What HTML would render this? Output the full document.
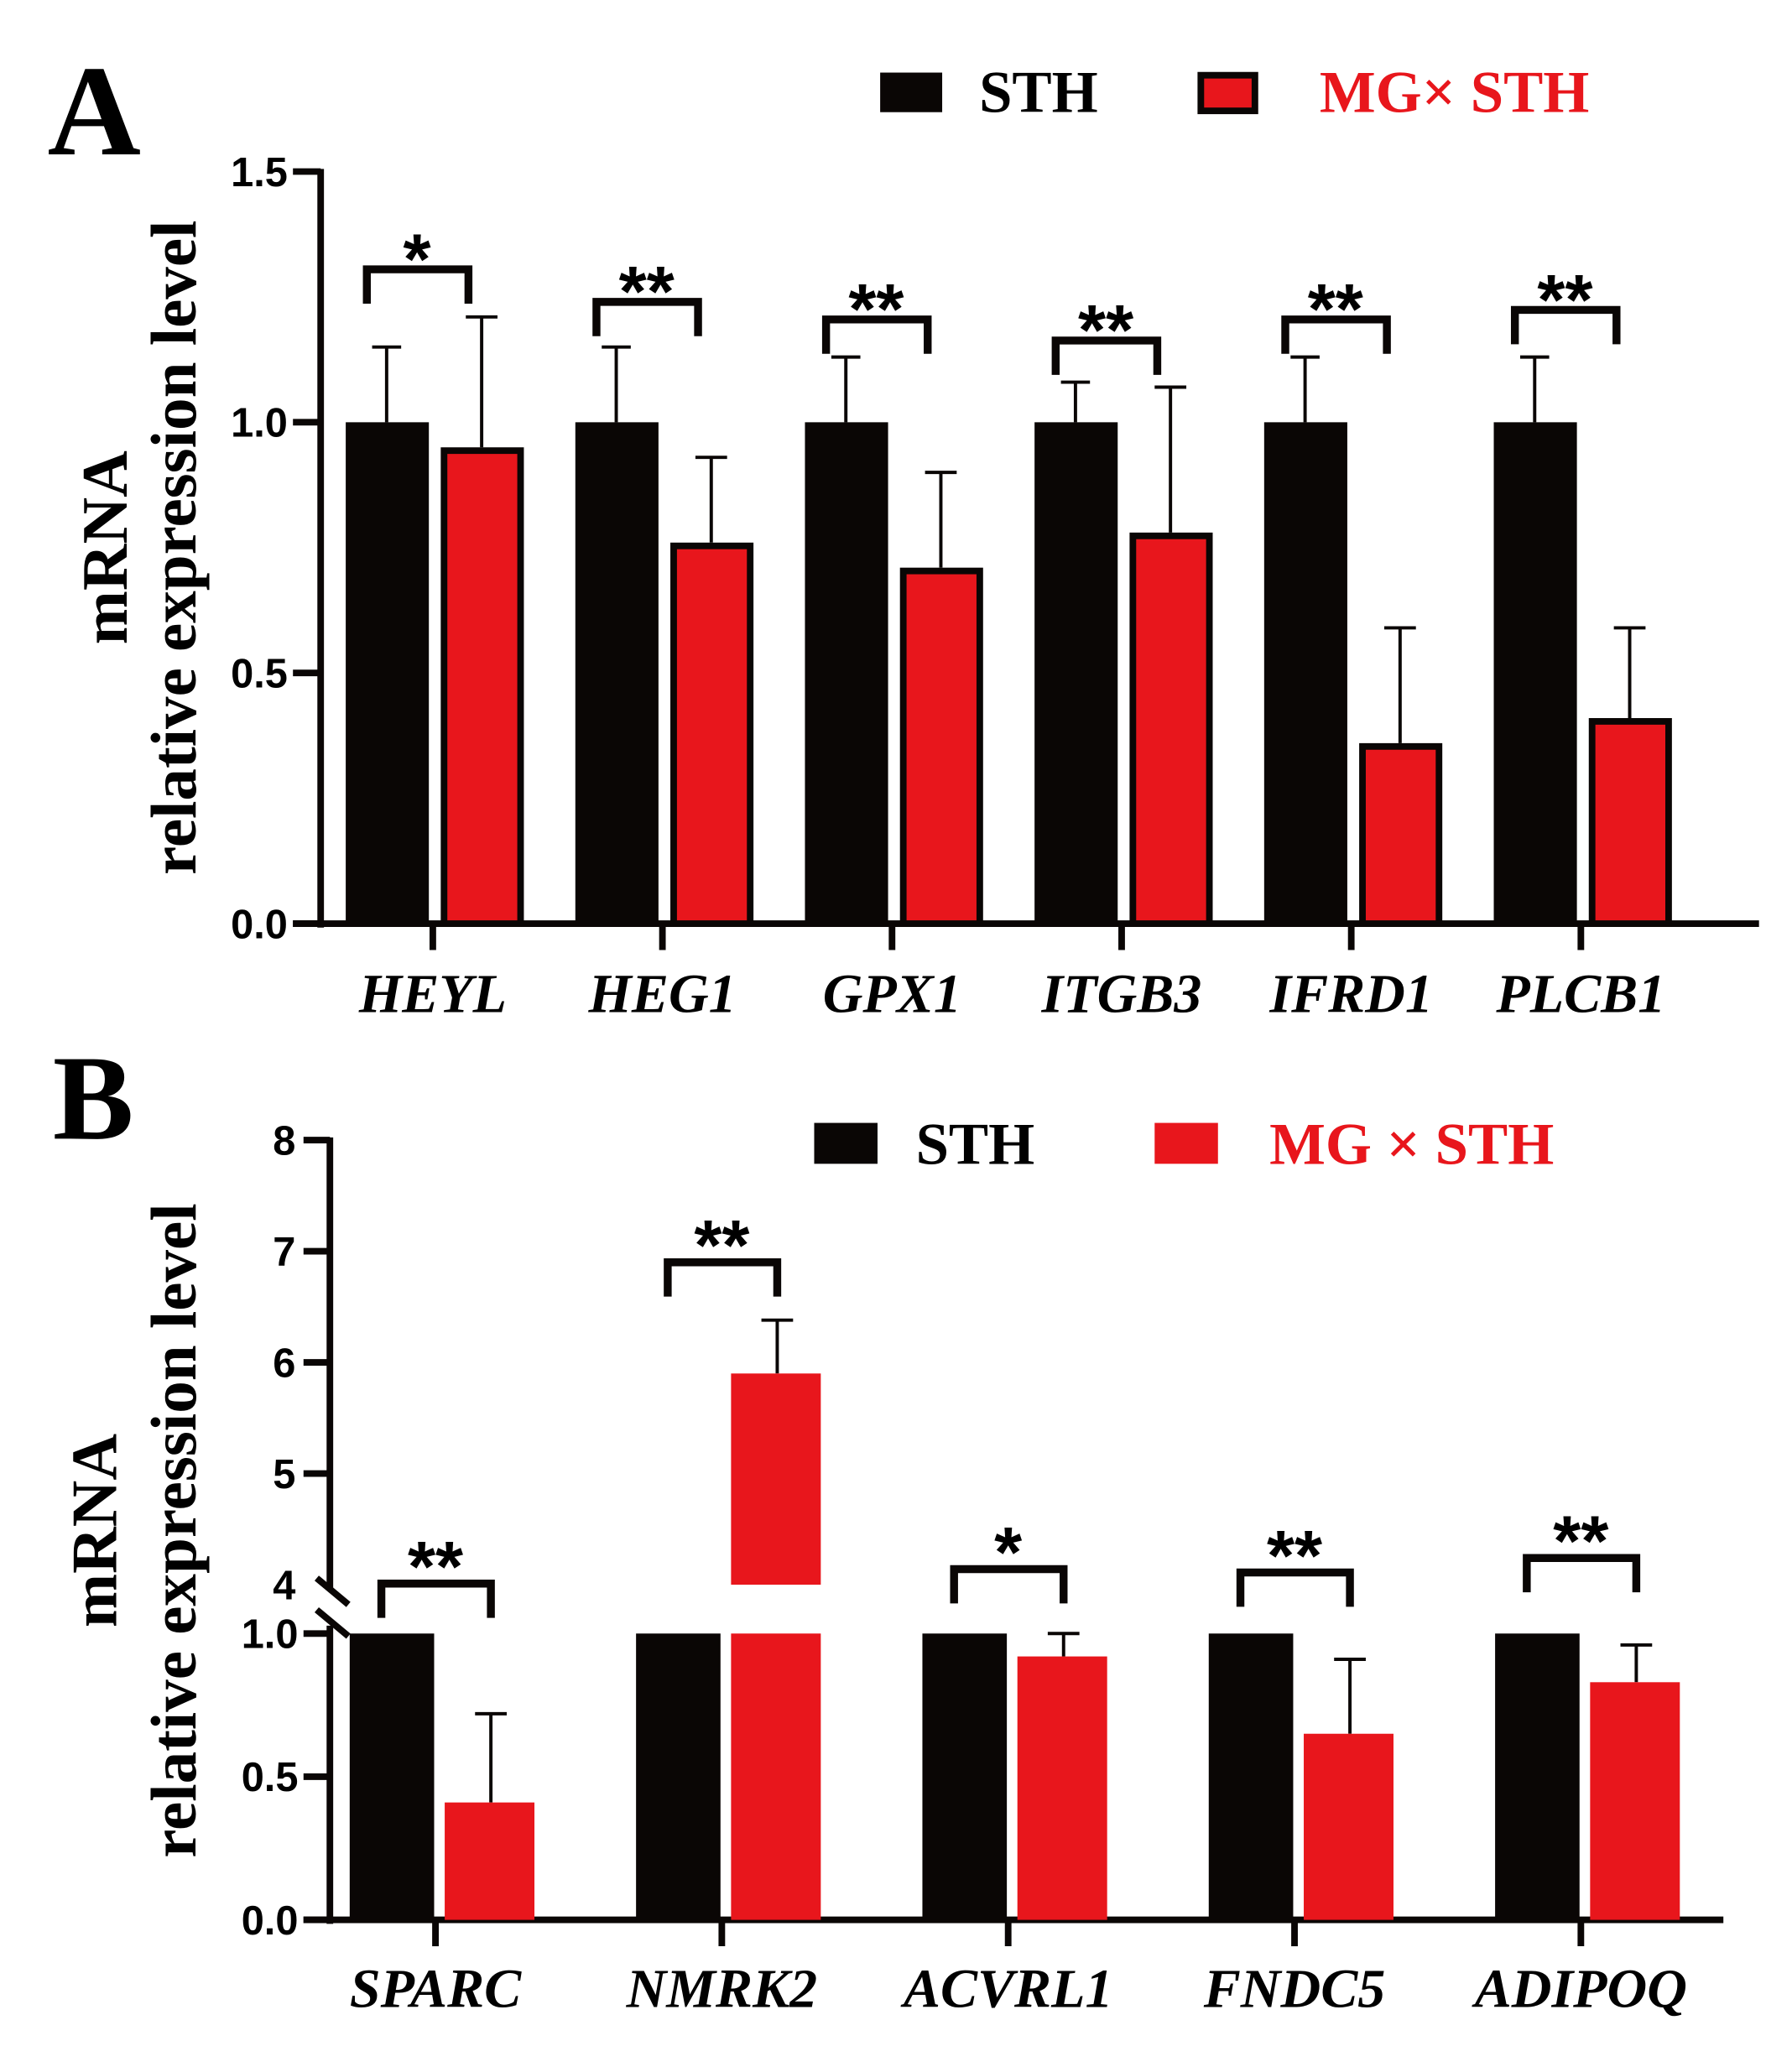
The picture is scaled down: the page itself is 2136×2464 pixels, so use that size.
<!DOCTYPE html>
<html><head><meta charset="utf-8"><style>
html,body{margin:0;padding:0;background:#fff}
svg{display:block}
.tick{font-family:"Liberation Sans",sans-serif;font-weight:bold;font-size:31px}
.gene{font-family:"Liberation Serif",serif;font-weight:bold;font-style:italic;font-size:42px}
.leg{font-family:"Liberation Serif",serif;font-weight:bold;font-size:45px}
.ylab{font-family:"Liberation Serif",serif;font-weight:bold;font-size:49px}
.star{font-family:"Liberation Sans",sans-serif;font-weight:bold;font-size:54px}
</style></head><body>
<svg id="fig" width="2136" height="2464" viewBox="0 0 1358 1566.5" xmlns="http://www.w3.org/2000/svg">
<text x="36" y="117" font-family="Liberation Serif,serif" font-weight="bold" font-size="98">A</text>
<text x="40" y="863" font-family="Liberation Serif,serif" font-weight="bold" font-size="92">B</text>
<g>
<rect x="667" y="55" width="47" height="30" fill="#0a0605"/>
<text x="742" y="85" class="leg">STH</text>
<rect x="910" y="57" width="41" height="27" fill="#e8161c" stroke="#0a0605" stroke-width="5"/>
<text x="1000" y="85" class="leg" fill="#e8161c">MG× STH</text>
</g>
<g>
<rect x="617" y="851" width="48" height="31" fill="#0a0605"/>
<text x="694" y="882" class="leg">STH</text>
<rect x="875" y="851" width="48" height="31" fill="#e8161c"/>
<text x="962" y="882" class="leg" fill="#e8161c">MG × STH</text>
</g>
<g transform="translate(0,415) rotate(-90)">
<text x="0" y="96" class="ylab" text-anchor="middle">mRNA</text>
<text x="0" y="148" class="ylab" text-anchor="middle">relative expression level</text>
</g>
<g transform="translate(0,1160) rotate(-90)">
<text x="0" y="88" class="ylab" text-anchor="middle">mRNA</text>
<text x="0" y="148" class="ylab" text-anchor="middle">relative expression level</text>
</g>
<g id="ga"></g>
<g id="gb"></g>
</svg>
<script>
// Panel A data
const genesA=["HEYL","HEG1","GPX1","ITGB3","IFRD1","PLCB1"];
const sthA=[1,1,1,1,1,1];
const sthErrA=[1.15,1.15,1.13,1.08,1.13,1.13];
const mgA=[0.95,0.76,0.71,0.78,0.36,0.41];
const mgErrA=[1.21,0.93,0.90,1.07,0.59,0.59];
const sigA=["*","**","**","**","**","**"];
const brA=[1.305,1.24,1.205,1.163,1.205,1.224];
const ticksA=[0,0.5,1.0,1.5];
const tickLabelsA=["0.0","0.5","1.0","1.5"];
// Panel B data
const genesB=["SPARC","NMRK2","ACVRL1","FNDC5","ADIPOQ"];
const sthB=[1,1,1,1,1];
const mgB=[0.41,5.9,0.92,0.65,0.83];
const mgErrB=[0.72,6.38,1.0,0.91,0.96];
const sigB=["**","**","*","**","**"];
const brB=[4.01,6.9,4.14,4.11,4.24];
const ticksBlow=[0,0.5,1.0];
const tickLabelsBlow=["0.0","0.5","1.0"];
const ticksBup=[4,5,6,7,8];
const tickLabelsBup=["4","5","6","7","8"];

const NS="http://www.w3.org/2000/svg";
function mk(p,t,a){const e=document.createElementNS(NS,t);for(const k in a)e.setAttribute(k,a[k]);p.appendChild(e);return e;}
const K="#0a0605",R="#e8161c";

// Panel A
const ga=document.getElementById('ga');
const yA=v=>700-v*380;
const xA=i=>328+i*174;
let ax=mk(ga,'line',{x1:243,y1:yA(1.5)-2,x2:243,y2:703,stroke:K,'stroke-width':5});

ax=mk(ga,'line',{x1:222,y1:700,x2:1333,y2:700,stroke:K,'stroke-width':5});

ticksA.forEach((t,i)=>{
 const l=mk(ga,'line',{x1:222,y1:yA(t),x2:243,y2:yA(t),stroke:K,'stroke-width':5});
 
 const tx=mk(ga,'text',{x:218,y:yA(t)+11,'text-anchor':'end',class:'tick'});tx.textContent=tickLabelsA[i];
 
});
genesA.forEach((g,i)=>{
 const c=xA(i);
 const tk=mk(ga,'line',{x1:c,y1:700,x2:c,y2:720,stroke:K,'stroke-width':5});
 
 const gt=mk(ga,'text',{x:c,y:767,'text-anchor':'middle',class:'gene'});gt.textContent=g;
 
 const e1=mk(ga,'path',{d:`M${c-46},${yA(sthErrA[i])}H${c-24}M${c-35},${yA(sthErrA[i])}V${yA(sthA[i])}`,stroke:K,'stroke-width':2.5,fill:'none'});
 
 const b1=mk(ga,'rect',{x:c-66,y:yA(sthA[i]),width:63,height:700-yA(sthA[i]),fill:K});
 
 const e2=mk(ga,'path',{d:`M${c+25},${yA(mgErrA[i])}H${c+49}M${c+37},${yA(mgErrA[i])}V${yA(mgA[i])}`,stroke:K,'stroke-width':2.5,fill:'none'});
 
 const b2=mk(ga,'rect',{x:c+8.5,y:yA(mgA[i])+2.5,width:58,height:700-yA(mgA[i])-2.5,fill:R,stroke:K,'stroke-width':5});
 
 const by=yA(brA[i]);
 const br=mk(ga,'path',{d:`M${c-50},${by+26}V${by}H${c+27}V${by+26}`,stroke:K,'stroke-width':6,fill:'none'});
 
 const st=mk(ga,'text',{x:c-12,y:by+11,'text-anchor':'middle',class:'star'});st.textContent=sigA[i];
 
});

// Panel B
const gb=document.getElementById('gb');
const yBl=v=>1455-v*217;
const yBu=v=>1201-(v-4)*84.25;
const yB=v=>v<=1?yBl(v):yBu(v);
const xB=i=>330+i*217;
ax=mk(gb,'line',{x1:250,y1:yBu(8)-2,x2:250,y2:1205,stroke:K,'stroke-width':5});

ax=mk(gb,'line',{x1:250,y1:1232,x2:250,y2:1458,stroke:K,'stroke-width':5});

ax=mk(gb,'path',{d:'M240,1196L264,1216M240,1220L264,1240',stroke:K,'stroke-width':5,fill:'none'});

ax=mk(gb,'line',{x1:230,y1:1455,x2:1306,y2:1455,stroke:K,'stroke-width':5});

ticksBlow.forEach((t,i)=>{
 const l=mk(gb,'line',{x1:230,y1:yBl(t),x2:250,y2:yBl(t),stroke:K,'stroke-width':5});
 
 const tx=mk(gb,'text',{x:226,y:yBl(t)+11,'text-anchor':'end',class:'tick'});tx.textContent=tickLabelsBlow[i];
 
});
ticksBup.forEach((t,i)=>{
 if(t>4){const l=mk(gb,'line',{x1:230,y1:yBu(t),x2:250,y2:yBu(t),stroke:K,'stroke-width':5});
 }
 const tx=mk(gb,'text',{x:224,y:yBu(t)+11,'text-anchor':'end',class:'tick'});tx.textContent=tickLabelsBup[i];
 
});
genesB.forEach((g,i)=>{
 const c=xB(i);
 const tk=mk(gb,'line',{x1:c,y1:1455,x2:c,y2:1475,stroke:K,'stroke-width':5});
 
 const gt=mk(gb,'text',{x:c,y:1521,'text-anchor':'middle',class:'gene'});gt.textContent=g;
 
 const b1=mk(gb,'rect',{x:c-65,y:yBl(Math.min(sthB[i],1)),width:64,height:1455-yBl(Math.min(sthB[i],1)),fill:K});
 
 const v=mgB[i];
 const e2=mk(gb,'path',{d:`M${c+30},${yB(mgErrB[i])}H${c+54}M${c+42},${yB(mgErrB[i])}V${yB(v)}`,stroke:K,'stroke-width':2.5,fill:'none'});
 
 const b2=mk(gb,'rect',{x:c+7,y:yBl(Math.min(v,1)),width:68,height:1455-yBl(Math.min(v,1)),fill:R});
 
 if(v>4){const b3=mk(gb,'rect',{x:c+7,y:yBu(v),width:68,height:yBu(4)-yBu(v),fill:R});
  }
 const by=yBu(brB[i]);
 const br=mk(gb,'path',{d:`M${c-41},${by+26}V${by}H${c+42}V${by+26}`,stroke:K,'stroke-width':6,fill:'none'});
 
 const st=mk(gb,'text',{x:c,y:by+6,'text-anchor':'middle',class:'star'});st.textContent=sigB[i];
 
});
</script>
</body></html>
